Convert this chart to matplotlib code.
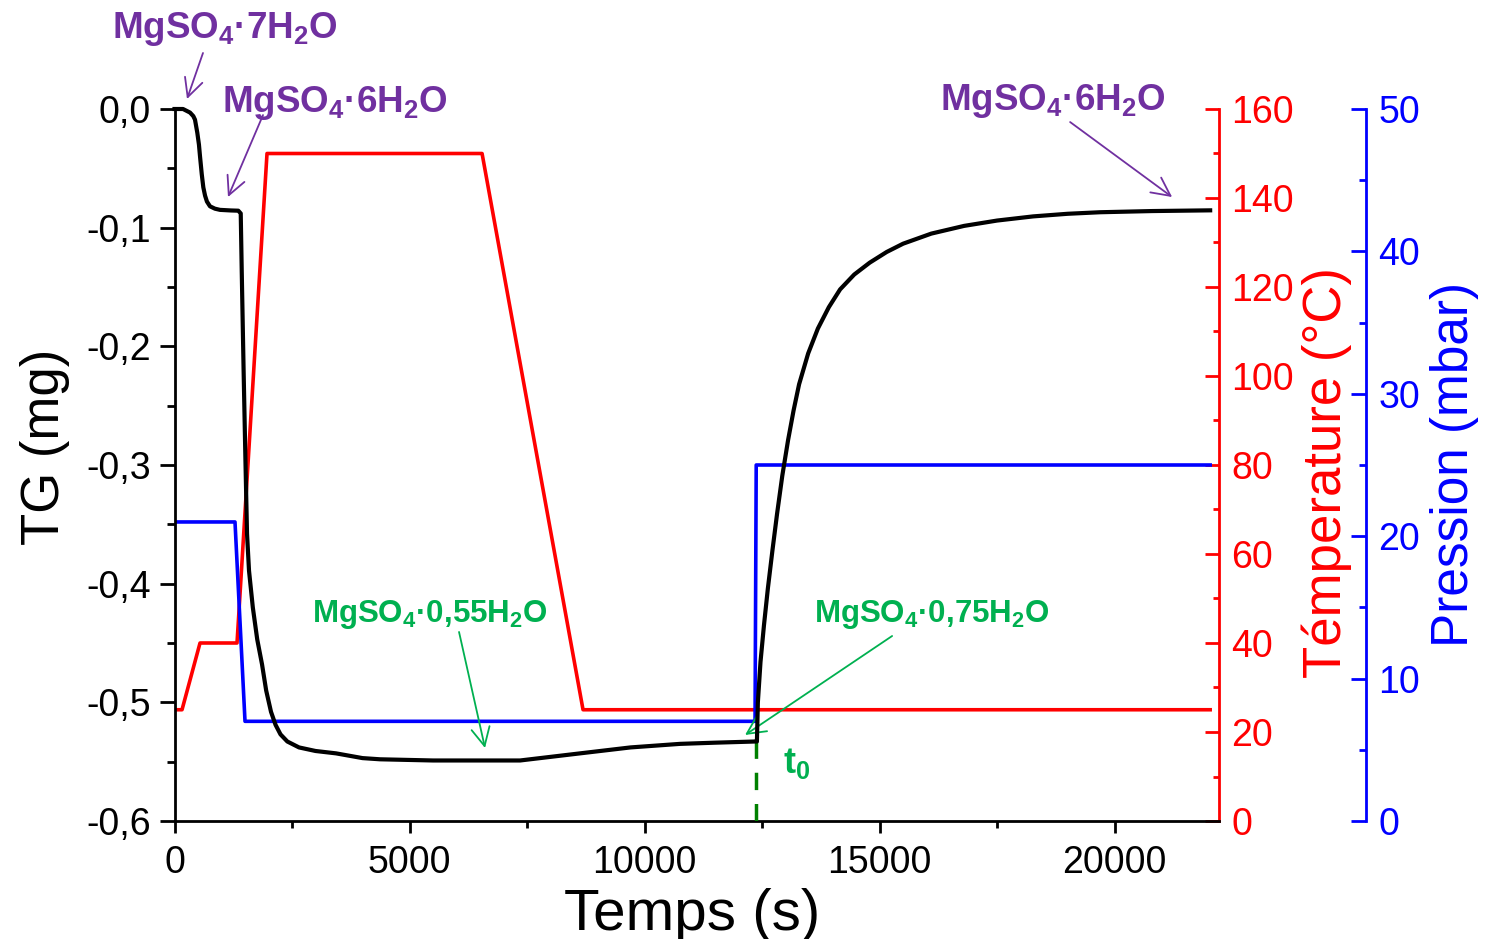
import matplotlib
matplotlib.use('Agg')
import matplotlib.pyplot as plt
from matplotlib.ticker import MultipleLocator, FuncFormatter

plt.rcParams['font.family'] = ['Liberation Sans', 'DejaVu Sans']
plt.rcParams['mathtext.fontset'] = 'custom'
plt.rcParams['mathtext.rm'] = 'Liberation Sans'
plt.rcParams['mathtext.bf'] = 'Liberation Sans:bold'
plt.rcParams['mathtext.it'] = 'Liberation Sans:italic'

# TG curve (mg) vs time (s)
tg_time = [0, 181, 330, 400, 436, 485, 520, 543, 580, 613, 650, 690, 755,
           860, 968, 1200, 1357, 1409, 1430, 1470, 1509, 1543, 1585,
           1666, 1760, 1862, 1950, 2053, 2150, 2255, 2400, 2649, 3000, 3436, 4000, 4372,
           5500, 7351, 8628, 9700, 10755, 11500, 12360,
           12390, 12410, 12466, 12540, 12623, 12720, 12819, 12930, 13053, 13170, 13287,
           13480, 13687, 13920, 14160, 14460, 14789, 15150, 15500, 16100, 16798,
           17500, 18266, 19000, 19691, 20800, 22032]
tg_mass = [0.0, 0.0, -0.003, -0.006, -0.009, -0.020, -0.030, -0.040, -0.055, -0.066, -0.073, -0.078, -0.082,
           -0.084, -0.085, -0.0855, -0.0857, -0.088, -0.136, -0.22, -0.296, -0.358, -0.389,
           -0.42, -0.447, -0.468, -0.49, -0.508, -0.519, -0.527, -0.533, -0.538, -0.541, -0.543, -0.547, -0.548,
           -0.549, -0.549, -0.543, -0.538, -0.535, -0.534, -0.533,
           -0.533, -0.50, -0.466, -0.435, -0.404, -0.372, -0.341, -0.309, -0.279, -0.254, -0.232,
           -0.206, -0.185, -0.167, -0.152, -0.1395, -0.1295, -0.1205, -0.1135, -0.1050, -0.0985,
           -0.0940, -0.0905, -0.0883, -0.0870, -0.0860, -0.0854]

# programmed temperature (°C)
temp_time = [0, 160, 543, 1330, 1968, 6543, 8691, 22032]
temp_val = [25, 25, 40, 40, 150, 150, 25, 25]

# water vapour pressure (mbar)
pres_time = [0, 1287, 1500, 12350, 12375, 22032]
pres_val = [21, 21, 7, 7, 25, 25]

# start of rehydration
t0 = 12360
tg_t0 = -0.533

purple = '#7030A0'
green = '#00B050'


def comma(v, pos):
    if abs(v) < 1e-9:
        v = 0.0
    return ('%.1f' % v).replace('.', ',')


fig = plt.figure(figsize=(14.85, 9.39), dpi=100)
ax = fig.add_axes([174.5 / 1485, 1 - 821 / 939, 1044.5 / 1485, 712 / 939])
tw = ax.twinx()
pw = ax.twinx()
pw.spines['right'].set_position(('axes', 1.1404))

tw.plot(temp_time, temp_val, color='red', lw=2.6)
pw.plot(pres_time, pres_val, color='blue', lw=2.6)
ax.plot(tg_time, tg_mass, color='black', lw=3, clip_on=False, zorder=5)
ax.plot([t0, t0], [tg_t0, -0.6], color='#008000', lw=2.5, ls=(0, (5, 4)), zorder=4)

ax.set_zorder(2)
ax.patch.set_visible(False)
tw.set_zorder(1)
pw.set_zorder(1)

ax.set_xlim(0, 22220)
ax.set_ylim(-0.6, 0)
tw.set_ylim(0, 160)
pw.set_ylim(0, 50)

ax.xaxis.set_major_locator(MultipleLocator(5000))
ax.xaxis.set_minor_locator(MultipleLocator(2500))
ax.yaxis.set_major_locator(MultipleLocator(0.1))
ax.yaxis.set_minor_locator(MultipleLocator(0.05))
ax.yaxis.set_major_formatter(FuncFormatter(comma))
tw.yaxis.set_major_locator(MultipleLocator(20))
tw.yaxis.set_minor_locator(MultipleLocator(10))
pw.yaxis.set_major_locator(MultipleLocator(10))
pw.yaxis.set_minor_locator(MultipleLocator(5))

for s in ['top', 'right']:
    ax.spines[s].set_visible(False)
for a, c in [(tw, 'red'), (pw, 'blue')]:
    for s in ['top', 'left', 'bottom']:
        a.spines[s].set_visible(False)
    a.spines['right'].set_color(c)
    a.spines['right'].set_linewidth(2)
ax.spines['left'].set_linewidth(2)
ax.spines['bottom'].set_linewidth(2)

ax.tick_params(which='both', direction='out', width=2, labelsize=27)
ax.tick_params(axis='x', which='major', length=8.5, pad=9)
ax.tick_params(axis='x', which='minor', length=5)
ax.tick_params(axis='y', which='major', length=11, pad=6)
ax.tick_params(axis='y', which='minor', length=6)
tw.tick_params(which='both', direction='in', colors='red', width=2, labelsize=27, pad=9)
tw.tick_params(which='major', length=10)
tw.tick_params(which='minor', length=4)
pw.tick_params(which='both', direction='in', colors='blue', width=2, labelsize=27, pad=9)
pw.tick_params(which='major', length=11)
pw.tick_params(which='minor', length=5)

ax.set_xlabel('Temps (s)', fontsize=42)
ax.xaxis.set_label_coords(0.4955, -0.094)
ax.set_ylabel('TG (mg)', fontsize=38)
ax.yaxis.set_label_coords(-0.100, 0.525)
tw.set_ylabel('Témperature (°C)', color='red', fontsize=38)
tw.yaxis.set_label_coords(1.079, 0.490)
pw.set_ylabel('Pression (mbar)', color='blue', fontsize=37)
pw.yaxis.set_label_coords(1.2016, 0.501)

arrow_kw = dict(arrowstyle='->,head_length=0.6,head_width=0.3', lw=1.3,
                shrinkA=0, shrinkB=0, mutation_scale=22)

ax.text(1074, 0.0598, r'$\mathbf{MgSO_4·7H_2O}$', color=purple, fontsize=26.5, ha='center', va='baseline')
ax.annotate('', xy=(266, 0.0084), xytext=(606, 0.0472), annotation_clip=False,
            arrowprops=dict(color=purple, **arrow_kw))
ax.text(3415, -0.0025, r'$\mathbf{MgSO_4·6H_2O}$', color=purple, fontsize=26.5, ha='center', va='baseline')
ax.annotate('', xy=(1138, -0.0742), xytext=(1883, -0.0051), annotation_clip=False,
            arrowprops=dict(color=purple, **arrow_kw))
ax.text(18691, -0.0008, r'$\mathbf{MgSO_4·6H_2O}$', color=purple, fontsize=26.5, ha='center', va='baseline')
ax.annotate('', xy=(21223, -0.0742), xytext=(19053, -0.011), annotation_clip=False,
            arrowprops=dict(color=purple, **arrow_kw))

ax.text(5436, -0.432, r'$\mathbf{MgSO_4·0{,}55H_2O}$', color=green, fontsize=22.5, ha='center', va='baseline')
ax.annotate('', xy=(6606, -0.5385), xytext=(6053, -0.4407),
            arrowprops=dict(color=green, **arrow_kw))
ax.text(16117, -0.432, r'$\mathbf{MgSO_4·0{,}75H_2O}$', color=green, fontsize=22.5, ha='center', va='baseline')
ax.annotate('', xy=(12138, -0.5275), xytext=(15266, -0.4441),
            arrowprops=dict(color=green, **arrow_kw))
ax.text(13245, -0.5595, r'$\mathbf{t_0}$', color=green, fontsize=26, ha='center', va='baseline')

fig.savefig('out.png', dpi=100)
